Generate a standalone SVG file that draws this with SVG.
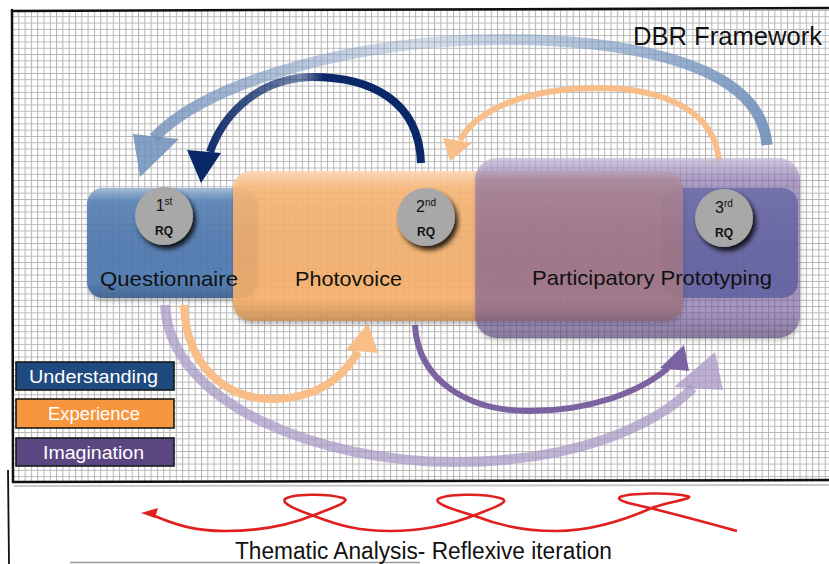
<svg xmlns="http://www.w3.org/2000/svg" width="829" height="564" viewBox="0 0 829 564">
<defs>
  <pattern id="grid" x="12" y="10" width="6.3" height="6.3" patternUnits="userSpaceOnUse">
    <path d="M0 0.5H6.3M0.5 0V6.3" stroke="#b4b4b4" stroke-width="1" fill="none"/>
  </pattern>
  <linearGradient id="shine" x1="0" y1="0" x2="0" y2="1">
    <stop offset="0" stop-color="#fff" stop-opacity="0.45"/>
    <stop offset="0.12" stop-color="#fff" stop-opacity="0.08"/>
    <stop offset="0.85" stop-color="#000" stop-opacity="0"/>
    <stop offset="1" stop-color="#000" stop-opacity="0.18"/>
  </linearGradient>
  <linearGradient id="steel" gradientUnits="userSpaceOnUse" x1="140" y1="0" x2="770" y2="0">
    <stop offset="0" stop-color="#6f8fba" stop-opacity="0.85"/>
    <stop offset="0.45" stop-color="#8aa5c8" stop-opacity="0.35"/>
    <stop offset="1" stop-color="#6f8fba" stop-opacity="0.9"/>
  </linearGradient>
  <linearGradient id="navy" gradientUnits="userSpaceOnUse" x1="200" y1="0" x2="425" y2="0">
    <stop offset="0" stop-color="#0a2868"/>
    <stop offset="0.45" stop-color="#0a2868" stop-opacity="0.55"/>
    <stop offset="0.55" stop-color="#0a2868"/>
    <stop offset="1" stop-color="#0a2868"/>
  </linearGradient>
  <filter id="shadow" x="-30%" y="-30%" width="170%" height="170%">
    <feGaussianBlur in="SourceAlpha" stdDeviation="2.5"/>
    <feOffset dx="3" dy="4" result="b"/>
    <feComponentTransfer><feFuncA type="linear" slope="0.85"/></feComponentTransfer>
    <feMerge><feMergeNode/><feMergeNode in="SourceGraphic"/></feMerge>
  </filter>
  <filter id="boxsh" x="-10%" y="-10%" width="120%" height="125%">
    <feGaussianBlur in="SourceAlpha" stdDeviation="2"/>
    <feOffset dx="1" dy="3"/>
    <feComponentTransfer><feFuncA type="linear" slope="0.3"/></feComponentTransfer>
    <feMerge><feMergeNode/><feMergeNode in="SourceGraphic"/></feMerge>
  </filter>
  <style>
    .hand { font-family: "Liberation Sans", "DejaVu Sans", sans-serif; fill: #111; }
    .lbl { font-size: 21px; }
    .leg { font-family: "Liberation Sans", "DejaVu Sans", sans-serif; font-size: 18px; fill: #fff; }
    .legbox { stroke: #1a1a1a; stroke-width: 1.6; }
    .rq { font-family: "Liberation Sans", "DejaVu Sans", sans-serif; fill: #111; text-anchor: middle; }
    .circ { fill: #a8a8a8; }
    .border { stroke: #111; stroke-width: 2.5; fill: none; stroke-linecap: round; }
  </style>
</defs>

<rect width="829" height="564" fill="#fff"/>

<!-- grid frame -->
<g id="frame">
  <rect x="12" y="10" width="817" height="472" fill="url(#grid)"/>
  <path class="border" d="M12 11 L829 8"/>
  <path class="border" d="M12 10 L13 482"/>
  <path class="border" d="M13 482 L829 480"/>
  <path d="M14 486 L829 485" stroke="#c8c8c8" stroke-width="2"/>
  <path d="M8 470 L9 564" stroke="#111" stroke-width="1.8" fill="none"/>
  <path d="M70 562.5 L420 562.5" stroke="#999" stroke-width="1.5"/>
</g>

<text id="title" class="hand" x="633" y="45" font-size="26" textLength="189" lengthAdjust="spacingAndGlyphs">DBR Framework</text>

<!-- connectors -->
<g id="connectors" fill="none" stroke-linecap="butt">
  <!-- big steel-blue arc: 3rd to 1st -->
  <path d="M767 145 C760 55 600 36 470 40 C330 46 200 88 154 138" stroke="url(#steel)" stroke-width="11"/>
  <polygon points="133,134 179,139 140,177" fill="#6f8fba" fill-opacity="0.85"/>
  <!-- navy arc: 2nd to 1st -->
  <path d="M421 163 C419 100 370 77 312 77 C262 78 225 110 210 152" stroke="url(#navy)" stroke-width="8"/>
  <polygon points="187,150 221,153 201,183" fill="#0a2868"/>
  <!-- light orange arc: 3rd to 2nd -->
  <path d="M719 162 C716 112 665 88 598 88 C530 88 478 108 460 140" stroke="#f9bd8a" stroke-width="6"/>
  <polygon points="443,138 472,143 450,161" fill="#f9bd8a"/>
  <!-- orange arc: 1st to 2nd -->
  <path d="M184 305 C186 365 225 400 275 399 C318 398 343 377 358 352" stroke="#f9bd88" stroke-width="8"/>
  <polygon points="346,350 378,353 368,323" fill="#f9bd88"/>
  <!-- big light purple arc: 1st to 3rd -->
  <path d="M165 305 C170 405 320 462 455 462 C578 462 655 425 693 388" stroke="#a796c4" stroke-opacity="0.7" stroke-width="10"/>
  <polygon points="674,387 723,390 715,352" fill="#a796c4" fill-opacity="0.75"/>
  <!-- medium purple arc: 2nd to 3rd -->
  <path d="M415 325 C418 382 470 411 529 411 C590 411 640 392 668 368" stroke="#7a63a0" stroke-width="6"/>
  <polygon points="660,368 689,371 684,345" fill="#7a63a0"/>
  <!-- red squiggle -->
  <path d="M150 514 C175 525 195 531 225 531 C262 531 290 525 314 515 C335 507 352 501 343 498 C326 493 292 494 285 499 C281 504 298 510 314 516 C340 526 360 531 390 531 C422 531 450 525 475 515 C496 507 512 501 500 498 C482 493 446 494 438 499 C434 504 455 510 475 516 C500 526 525 531 556 531 C592 531 625 520 654 507 C673 501 697 498 687 496 C670 492 630 493 620 497 C614 501 638 505 654 509 C690 518 715 525 737 531" stroke="#e0201e" stroke-width="2.6"/>
  <polygon points="141,513 158,508 155,518" fill="#e0201e"/>
</g>

<!-- nodes -->
<g id="node-questionnaire">
  <rect x="87" y="188" width="170" height="110" rx="16" fill="#4a76b0" fill-opacity="0.88" filter="url(#boxsh)"/>
  <rect x="87" y="188" width="170" height="110" rx="16" fill="url(#shine)"/>
</g>
<g id="node-prototyping-base">
  <rect x="662" y="188" width="136" height="110" rx="16" fill="#4a76b0" fill-opacity="0.88"/>
</g>
<g id="node-photovoice">
  <rect x="233" y="171" width="450" height="150" rx="18" fill="#f9b26b" fill-opacity="0.88" filter="url(#boxsh)"/>
  <rect x="233" y="171" width="450" height="150" rx="18" fill="url(#shine)"/>
</g>
<g id="node-prototyping">
  <rect x="475" y="158" width="325" height="180" rx="22" fill="#785ba2" fill-opacity="0.55" filter="url(#boxsh)"/>
  <rect x="475" y="158" width="325" height="180" rx="22" fill="url(#shine)"/>
</g>

<g id="rq1">
  <circle class="circ" cx="164" cy="216" r="29" filter="url(#shadow)"/>
  <text class="rq" x="164" y="211" font-size="16">1<tspan font-size="10" dy="-6">st</tspan></text>
  <text class="rq" x="164" y="235" font-size="12" font-weight="bold">RQ</text>
</g>
<g id="rq2">
  <circle class="circ" cx="426" cy="217" r="29" filter="url(#shadow)"/>
  <text class="rq" x="426" y="212" font-size="16">2<tspan font-size="10" dy="-6">nd</tspan></text>
  <text class="rq" x="426" y="236" font-size="12" font-weight="bold">RQ</text>
</g>
<g id="rq3">
  <circle class="circ" cx="724" cy="218" r="29" filter="url(#shadow)"/>
  <text class="rq" x="724" y="213" font-size="16">3<tspan font-size="10" dy="-6">rd</tspan></text>
  <text class="rq" x="724" y="237" font-size="12" font-weight="bold">RQ</text>
</g>

<text class="hand lbl" x="100" y="286" textLength="138" lengthAdjust="spacingAndGlyphs">Questionnaire</text>
<text class="hand lbl" x="295" y="286" textLength="107" lengthAdjust="spacingAndGlyphs">Photovoice</text>
<text class="hand lbl" x="532" y="285" textLength="240" lengthAdjust="spacingAndGlyphs">Participatory Prototyping</text>

<!-- legend -->
<g id="legend-understanding">
  <rect class="legbox" x="16" y="362" width="158" height="28" fill="#1f4a7f"/>
  <text class="leg" x="29" y="383" textLength="129" lengthAdjust="spacingAndGlyphs">Understanding</text>
</g>
<g id="legend-experience">
  <rect class="legbox" x="16" y="399" width="158" height="29" fill="#f7963f"/>
  <text class="leg" x="48" y="420" textLength="92" lengthAdjust="spacingAndGlyphs">Experience</text>
</g>
<g id="legend-imagination">
  <rect class="legbox" x="16" y="438" width="158" height="28" fill="#5c4682"/>
  <text class="leg" x="43" y="459" textLength="101" lengthAdjust="spacingAndGlyphs">Imagination</text>
</g>

<text id="caption" class="hand" x="235" y="559" font-size="23" textLength="377" lengthAdjust="spacingAndGlyphs">Thematic Analysis- Reflexive iteration</text>
</svg>
